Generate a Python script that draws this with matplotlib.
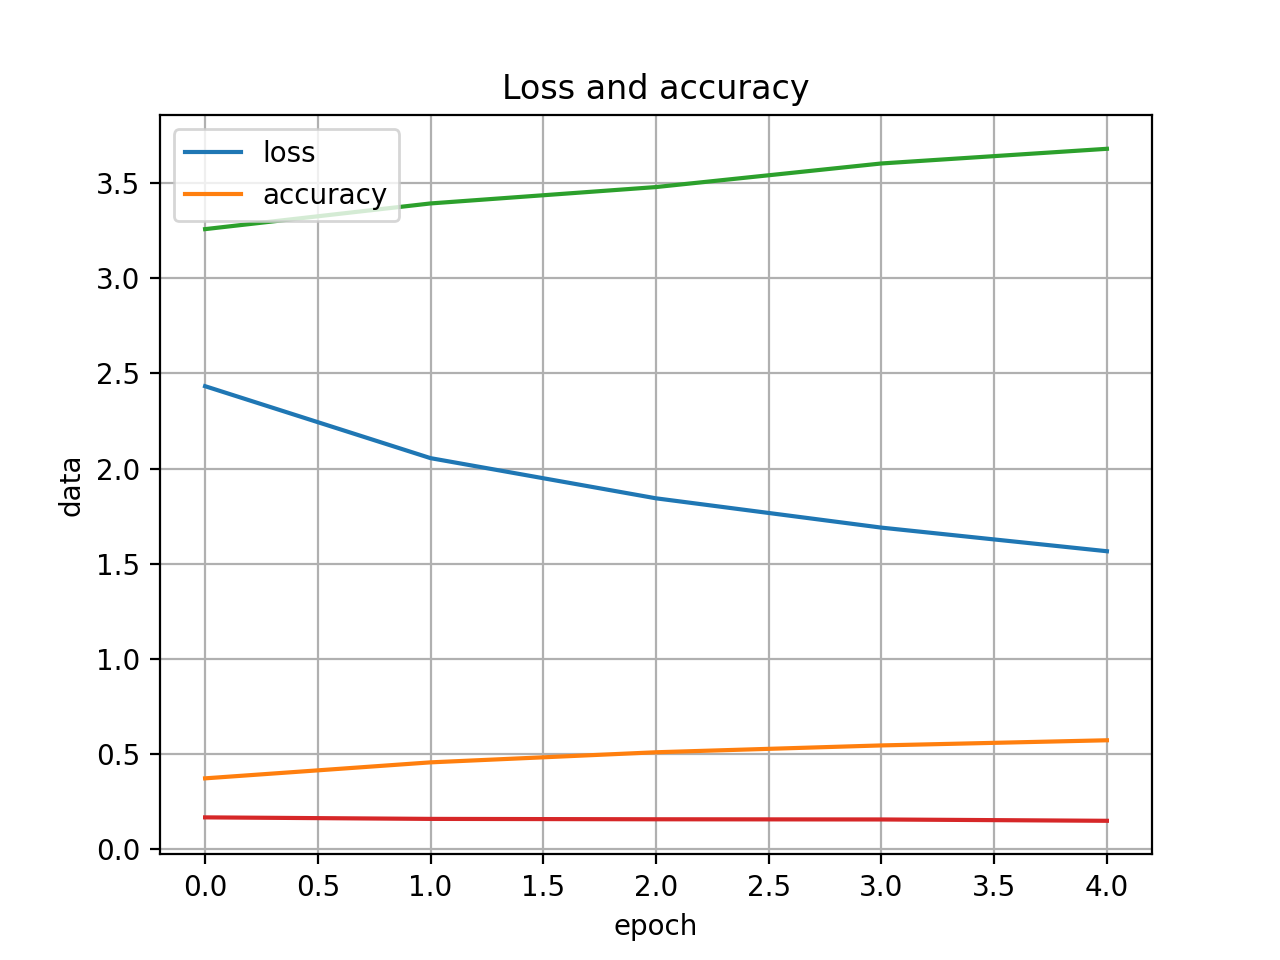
import matplotlib
matplotlib.use("Agg")
import matplotlib.pyplot as plt

epochs = [0, 1, 2, 3, 4]
loss = [2.433, 2.055, 1.844, 1.690, 1.566]
accuracy = [0.373, 0.457, 0.510, 0.546, 0.573]
series3 = [3.258, 3.393, 3.479, 3.603, 3.680]
series4 = [0.168, 0.160, 0.158, 0.157, 0.150]

plt.figure(figsize=(6.4, 4.8), dpi=200)
plt.plot(epochs, loss, label="loss")
plt.plot(epochs, accuracy, label="accuracy")
plt.legend(loc="upper left")
plt.plot(epochs, series3)
plt.plot(epochs, series4)
plt.title("Loss and accuracy")
plt.xlabel("epoch")
plt.ylabel("data")
plt.grid(True)
plt.savefig("out.png")
